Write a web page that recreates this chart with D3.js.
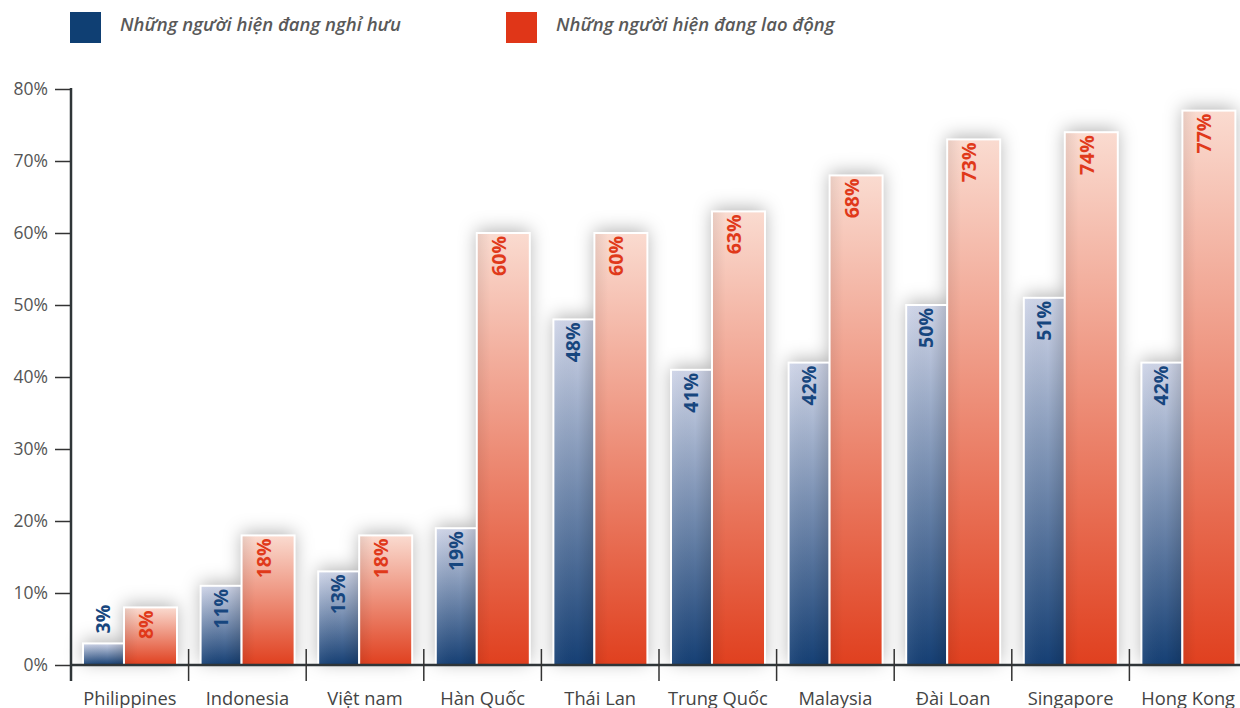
<!DOCTYPE html>
<html><head><meta charset="utf-8">
<script src="https://cdn.jsdelivr.net/npm/d3@7"></script>
<style>
html,body{margin:0;padding:0;background:#fff;}
svg{display:block;font-family:"Open Sans",sans-serif;}
</style></head>
<body><svg id="c" width="1240" height="708"></svg>
<script>
const categories = ["Philippines","Indonesia","Việt nam","Hàn Quốc","Thái Lan","Trung Quốc","Malaysia","Đài Loan","Singapore","Hong Kong"];
const retired = [3,11,13,19,48,41,42,50,51,42];
const working = [8,18,18,60,60,63,68,73,74,77];
const seriesNames = ["Những người hiện đang nghỉ hưu","Những người hiện đang lao động"];
const yTicks = [0,10,20,30,40,50,60,70,80];

const svg = d3.select("#c");
const defs = svg.append("defs");
const gB = defs.append("linearGradient").attr("id","gB").attr("x1",0).attr("y1",0).attr("x2",0).attr("y2",1);
gB.append("stop").attr("offset","0%").attr("stop-color","#cfd5e8");
gB.append("stop").attr("offset","100%").attr("stop-color","#153f74");
const gR = defs.append("linearGradient").attr("id","gR").attr("x1",0).attr("y1",0).attr("x2",0).attr("y2",1);
gR.append("stop").attr("offset","0%").attr("stop-color","#fadbd0");
gR.append("stop").attr("offset","100%").attr("stop-color","#e0401f");
const hR = defs.append("linearGradient").attr("id","hR").attr("x1",0).attr("y1",0).attr("x2",1).attr("y2",0);
hR.append("stop").attr("offset","0%").attr("stop-color","#000").attr("stop-opacity",0.07);
hR.append("stop").attr("offset","25%").attr("stop-color","#000").attr("stop-opacity",0);
const hB = defs.append("linearGradient").attr("id","hB").attr("x1",0).attr("y1",0).attr("x2",1).attr("y2",0);
hB.append("stop").attr("offset","0%").attr("stop-color","#fff").attr("stop-opacity",0.06);
hB.append("stop").attr("offset","60%").attr("stop-color","#000").attr("stop-opacity",0);
hB.append("stop").attr("offset","100%").attr("stop-color","#000").attr("stop-opacity",0.14);
const f = defs.append("filter").attr("id","sh").attr("x","-50%").attr("y","-50%").attr("width","200%").attr("height","200%");
f.append("feDropShadow").attr("dx",0).attr("dy",-3).attr("stdDeviation",9).attr("flood-color","#000").attr("flood-opacity",0.3);

const x = d3.scaleBand().domain(categories).range([71,1247]).paddingInner(0).paddingOuter(0);
const y = d3.scaleLinear().domain([0,80]).range([665,89]);
const inner = d3.scaleLinear().domain([0,1]).range([12,106]); // group within band
const split = 0.436;

// shadows layer
const gs = svg.append("g").attr("filter","url(#sh)");
categories.forEach((c,i)=>{
  const b = x(c);
  gs.append("rect").attr("x",b+inner(0)).attr("y",y(retired[i])).attr("width",inner(split)-inner(0)).attr("height",y(0)-y(retired[i])).attr("fill","#fff");
  gs.append("rect").attr("x",b+inner(split)).attr("y",y(working[i])).attr("width",inner(1)-inner(split)).attr("height",y(0)-y(working[i])).attr("fill","#fff");
});

const gb = svg.append("g");
categories.forEach((c,i)=>{
  const b = x(c);
  const x0 = b+inner(0), x1 = b+inner(split), x2 = b+inner(1);
  const hb = y(0)-y(retired[i]), hr = y(0)-y(working[i]);
  gb.append("rect").attr("x",x0).attr("y",y(retired[i])).attr("width",x1-x0).attr("height",hb)
    .attr("fill","url(#gB)").attr("stroke","#fff").attr("stroke-width",2);
  gb.append("rect").attr("x",x0+1).attr("y",y(retired[i])+1).attr("width",x1-x0-2).attr("height",Math.max(0,hb-2))
    .attr("fill","url(#hB)");
  gb.append("rect").attr("x",x1).attr("y",y(working[i])).attr("width",x2-x1).attr("height",hr)
    .attr("fill","url(#gR)").attr("stroke","#fff").attr("stroke-width",2);
  gb.append("rect").attr("x",x1+1).attr("y",y(working[i])+1).attr("width",x2-x1-2).attr("height",Math.max(0,hr-2))
    .attr("fill","url(#hR)");
  // labels
  const fs = 19.5;
  const bx = x0 + 27, rx = x1 + 29;
  const fitsB = hb > 45;
  gb.append("text").attr("transform",`translate(${bx},${fitsB ? y(retired[i])+3 : y(retired[i])-10}) rotate(-90)`)
    .attr("text-anchor",fitsB ? "end" : "start").attr("font-size",fs).attr("font-weight",700).attr("fill","#17467e").text(retired[i]+"%");
  const fitsR = hr > 45;
  gb.append("text").attr("transform",`translate(${rx},${fitsR ? y(working[i])+3 : y(working[i])-10}) rotate(-90)`)
    .attr("text-anchor",fitsR ? "end" : "start").attr("font-size",fs).attr("font-weight",700).attr("fill","#e0391a").text(working[i]+"%");
});

// y axis
const yAxis = d3.axisLeft(y).tickValues(yTicks).tickFormat(d=>d+"%").tickSize(16).tickPadding(7);
const ga = svg.append("g").attr("transform","translate(71,0)").call(yAxis);
ga.select(".domain").remove();
ga.selectAll(".tick line").attr("stroke","#333").attr("stroke-width",1.5);
ga.selectAll(".tick text").attr("font-size",17.5).attr("fill","#555").attr("font-family","Open Sans");
svg.append("line").attr("x1",71).attr("x2",71).attr("y1",88).attr("y2",681).attr("stroke","#2f3538").attr("stroke-width",2.5);

// x axis
svg.append("line").attr("x1",71).attr("x2",1240).attr("y1",665).attr("y2",665).attr("stroke","#2f3538").attr("stroke-width",2.5);
categories.forEach((c,i)=>{
  if(i>0) svg.append("line").attr("x1",x(c)).attr("x2",x(c)).attr("y1",649).attr("y2",681).attr("stroke","#333").attr("stroke-width",1.5);
  svg.append("text").attr("x",x(c)+x.bandwidth()/2).attr("y",705).attr("text-anchor","middle")
    .attr("font-size",18.3).attr("fill","#444").text(c);
});

// legend
const legColors = ["#0f3f73","#e03618"];
const legX = [70,506];
seriesNames.forEach((n,i)=>{
  svg.append("rect").attr("x",legX[i]).attr("y",12).attr("width",31).attr("height",31).attr("fill",legColors[i]);
  svg.append("text").attr("x",legX[i]+50).attr("y",31).attr("font-size",18.5).attr("font-style","italic").attr("font-weight",600)
    .attr("fill","#595959").text(n);
});
</script></body></html>
